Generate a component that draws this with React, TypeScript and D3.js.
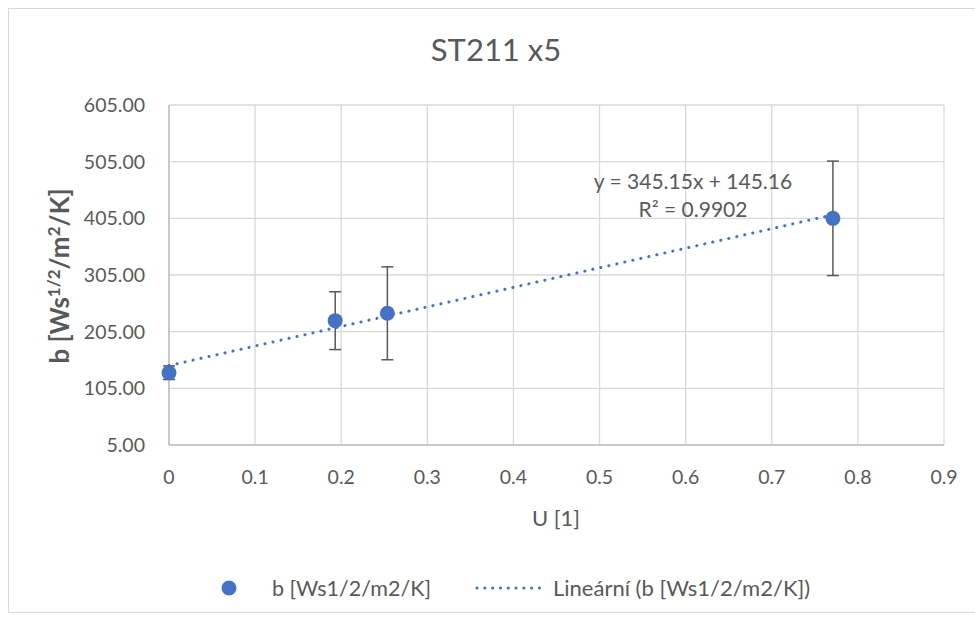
import React from "react";
import * as d3 from "d3";

const uValues = [0, 0.193, 0.2536, 0.771];
const bValues = [132.6, 224.4, 237.4, 405];
const bErrors = [12, 51, 82, 101];
const xTicks = [0, 0.1, 0.2, 0.3, 0.4, 0.5, 0.6, 0.7, 0.8, 0.9];
const yTicks = [5, 105, 205, 305, 405, 505, 605];
const trendSlope = 345.15;
const trendIntercept = 145.16;
const title = "ST211 x5";
const seriesName = "b [Ws1/2/m2/K]";
const trendName = "Lineární (b [Ws1/2/m2/K])";

const W = 975;
const H = 619;
const FONT = "Lato, 'Open Sans', sans-serif";
const TEXT = "#595959";
const BLUE = "#4472c4";

export default function App() {
  const x = d3.scaleLinear().domain([0, 0.9]).range([169, 944]);
  const y = d3.scaleLinear().domain([5, 605]).range([445, 105]);
  const xEnd = d3.max(uValues) as number;
  const trend = d3.line<number>()
    .x((d) => x(d))
    .y((d) => y(trendSlope * d + trendIntercept));
  return (
    <svg width={W} height={H} style={{ position: "absolute", left: 0, top: 0, fontFamily: FONT }}>
      <rect x={0} y={0} width={W} height={H} fill="#fff" />
      <rect x={8.5} y={8.5} width={W + 10} height={604} fill="none" stroke="#d9d9d9" />
      <text x={496} y={61} textAnchor="middle" fontSize={31} fill={TEXT}>{title}</text>
      {/* grid */}
      {yTicks.map((t) => (
        <line key={"gy" + t} x1={x(0)} x2={x(0.9)} y1={y(t)} y2={y(t)} stroke="#d9d9d9" strokeWidth={1.3} />
      ))}
      {xTicks.map((t) => (
        <line key={"gx" + t} x1={x(t)} x2={x(t)} y1={y(5)} y2={y(605)} stroke="#d9d9d9" strokeWidth={1.3} />
      ))}
      <line x1={x(0)} x2={x(0.9)} y1={y(5)} y2={y(5)} stroke="#bfbfbf" strokeWidth={1.5} />
      <line x1={x(0)} x2={x(0)} y1={y(5)} y2={y(605)} stroke="#bfbfbf" strokeWidth={1.5} />
      {/* tick labels */}
      {yTicks.map((t) => (
        <text key={"ty" + t} x={145} y={y(t) + 7} textAnchor="end" fontSize={19.5} fill={TEXT}>{t.toFixed(2)}</text>
      ))}
      {xTicks.map((t) => (
        <text key={"tx" + t} x={x(t)} y={484} textAnchor="middle" fontSize={19.5} fill={TEXT}>{String(t)}</text>
      ))}
      {/* axis titles */}
      <text x={556} y={526} textAnchor="middle" fontSize={22} fill={TEXT}>U [1]</text>
      <text transform={`translate(69, ${276}) rotate(-90)`} textAnchor="middle" fontSize={26} fontWeight="bold" fill={TEXT}>
        b [Ws<tspan dy={-9} fontSize={17}>1/2</tspan><tspan dy={9}>/m</tspan><tspan dy={-9} fontSize={17}>2</tspan><tspan dy={9}>/K]</tspan>
      </text>
      {/* trendline */}
      <path d={trend([0, xEnd]) as string} fill="none" stroke={BLUE} strokeWidth={3} strokeDasharray="0.1 8.1" strokeLinecap="round" />
      {/* error bars */}
      {uValues.map((u, i) => (
        <g key={"e" + i} stroke="#595959" strokeWidth={1.5}>
          <line x1={x(u)} x2={x(u)} y1={y(bValues[i] - bErrors[i])} y2={y(bValues[i] + bErrors[i])} />
          <line x1={x(u) - 6} x2={x(u) + 6} y1={y(bValues[i] - bErrors[i])} y2={y(bValues[i] - bErrors[i])} />
          <line x1={x(u) - 6} x2={x(u) + 6} y1={y(bValues[i] + bErrors[i])} y2={y(bValues[i] + bErrors[i])} />
        </g>
      ))}
      {/* points */}
      {uValues.map((u, i) => (
        <circle key={"p" + i} cx={x(u)} cy={y(bValues[i])} r={7.5} fill={BLUE} />
      ))}
      {/* equation */}
      <text x={693} y={189} textAnchor="middle" fontSize={21} fill={TEXT}>y = 345.15x + 145.16</text>
      <text x={693} y={217} textAnchor="middle" fontSize={21} fill={TEXT}>R² = 0.9902</text>
      {/* legend */}
      <circle cx={229} cy={588} r={7.5} fill={BLUE} />
      <text x={272} y={596} fontSize={21.5} fill={TEXT}>{seriesName}</text>
      <line x1={477} x2={547} y1={588} y2={588} stroke={BLUE} strokeWidth={3} strokeDasharray="0.1 7.7" strokeLinecap="round" />
      <text x={553} y={596} fontSize={22} fill={TEXT}>{trendName}</text>
    </svg>
  );
}
